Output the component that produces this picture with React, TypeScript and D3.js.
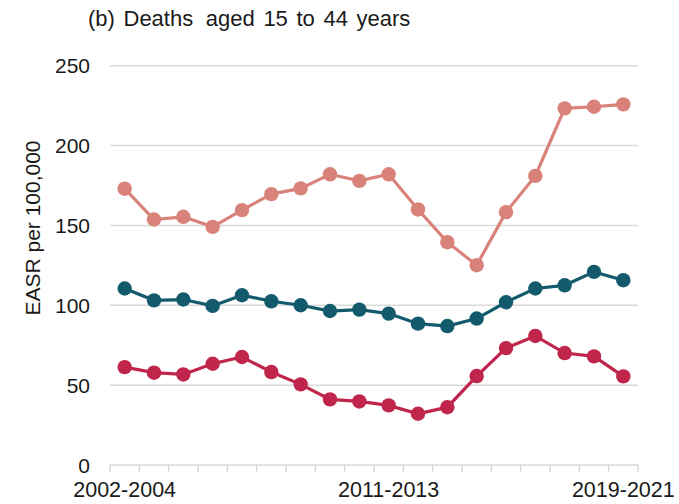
import React from "react";
import * as d3 from "d3";

const categories = [
  "2002-2004", "2003-2005", "2004-2006", "2005-2007", "2006-2008", "2007-2009",
  "2008-2010", "2009-2011", "2010-2012", "2011-2013", "2012-2014", "2013-2015",
  "2014-2016", "2015-2017", "2016-2018", "2017-2019", "2018-2020", "2019-2021",
];
const shownLabels = ["2002-2004", "2011-2013", "2019-2021"];

const males = [173, 153.7, 155.4, 149.1, 159.6, 169.6, 173.2, 182, 177.9, 182, 160, 139.5, 125.1, 158.3, 181, 223.3, 224.3, 225.8];
const persons = [110.5, 103.1, 103.6, 99.6, 106.3, 102.5, 100, 96.4, 97.3, 94.8, 88.5, 87, 91.7, 101.9, 110.5, 112.5, 120.9, 115.7];
const females = [61.3, 57.8, 56.7, 63.4, 67.6, 58.2, 50.5, 41.1, 39.8, 37.3, 32.1, 36.2, 55.7, 73.2, 80.8, 70.1, 68, 55.5];

const yTicks = [0, 50, 100, 150, 200, 250];

const series = [
  { name: "Males", values: males, color: "#d9827a" },
  { name: "Persons", values: persons, color: "#135a6d" },
  { name: "Females", values: females, color: "#c0264c" },
];

const W = 679;
const H = 504;
const FONT = "Liberation Sans, Arial, sans-serif";

export default function App() {
  const x = d3.scaleBand<string>().domain(categories).range([110, 638]).padding(0);
  const y = d3.scaleLinear().domain([0, 250]).range([465, 65.7]);
  const cx = (c: string) => (x(c) as number) + x.bandwidth() / 2;
  const line = d3
    .line<number>()
    .x((_, i) => cx(categories[i]))
    .y((d) => y(d));

  const boundaries = categories.map((c) => x(c) as number).concat([638]);

  return (
    <svg
      width={W}
      height={H}
      style={{ position: "absolute", left: 0, top: 0, background: "#fff" }}
      fontFamily={FONT}
    >
      <rect x={0} y={0} width={W} height={H} fill="#fff" />
      <text x={88} y={26} fontSize={22} fill="#1a1a1a" wordSpacing={2.5}>
        <tspan>(b) Deaths</tspan>
        <tspan dx={4}> aged 15 to 44 years</tspan>
      </text>
      {yTicks.filter((t) => t > 0).map((t) => (
        <line key={t} x1={110} x2={638} y1={y(t)} y2={y(t)} stroke="#d9d9d9" strokeWidth={1.5} />
      ))}
      <line x1={110} x2={638} y1={y(0)} y2={y(0)} stroke="#d9d9d9" strokeWidth={1.5} />
      {boundaries.map((b, i) => (
        <line key={i} x1={b} x2={b} y1={y(0)} y2={y(0) + 7} stroke="#d9d9d9" strokeWidth={1.5} />
      ))}
      {yTicks.map((t) => (
        <text key={t} x={90} y={y(t)} dy="0.36em" textAnchor="end" fontSize={21} fill="#1a1a1a">
          {t}
        </text>
      ))}
      <text
        transform={`translate(40,228) rotate(-90)`}
        textAnchor="middle"
        fontSize={21}
        fill="#1a1a1a"
      >
        EASR per 100,000
      </text>
      {shownLabels.map((c) => (
        <text key={c} x={cx(c)} y={497} textAnchor="middle" fontSize={21.5} fill="#1a1a1a">
          {c}
        </text>
      ))}
      {series.map((s) => (
        <g key={s.name}>
          <path d={line(s.values) || ""} fill="none" stroke={s.color} strokeWidth={3.2} />
          {s.values.map((v, i) => (
            <circle key={i} cx={cx(categories[i])} cy={y(v)} r={7.2} fill={s.color} />
          ))}
        </g>
      ))}
    </svg>
  );
}
